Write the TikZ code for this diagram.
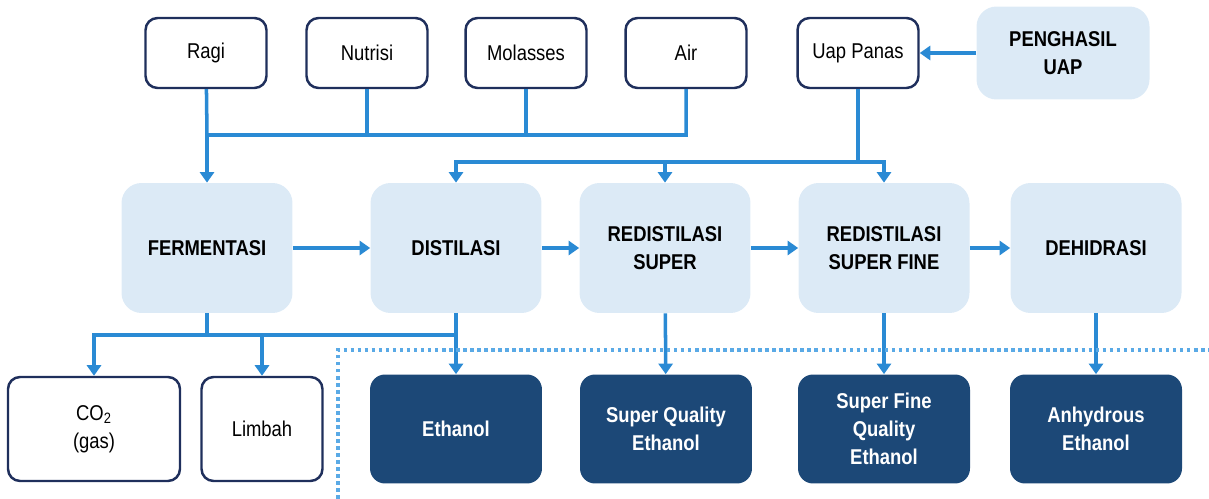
\documentclass[tikz,border=0pt]{standalone}
\usepackage{fontspec}
\setmainfont{Liberation Sans}[FakeStretch=0.86]
\usetikzlibrary{arrows.meta}
\definecolor{navy}{HTML}{1F2F5C}
\definecolor{pale}{HTML}{DCEAF6}
\definecolor{deep}{HTML}{1C4877}
\definecolor{flow}{HTML}{2A8AD4}
\definecolor{dots}{HTML}{5AAAE6}
\begin{document}
\begin{tikzpicture}[x=0.02cm,y=-0.02cm,
    every node/.style={align=center,inner sep=2pt,font=\fontsize{12.2}{15.9}\selectfont},
    feed/.style={draw=navy,line width=1.4pt,fill=white,rounded corners=0.24cm,minimum width=2.42cm,minimum height=1.4cm},
    proc/.style={fill=pale,rounded corners=0.4cm,minimum width=3.42cm,minimum height=2.6cm,font=\fontsize{12.2}{15.9}\selectfont\bfseries},
    prod/.style={fill=deep,text=white,rounded corners=0.3cm,minimum width=3.44cm,minimum height=2.18cm,font=\fontsize{12.2}{15.9}\selectfont\bfseries},
    link/.style={draw=flow,line width=2pt},
    flowto/.style={link,-{Triangle[length=6pt,width=8pt]}}]
            \useasboundingbox (0,0) rectangle (1209,499);

            \node[feed] (ragi) at (206,53) {Ragi};
            \node[feed] (nutrisi) at (367,53) {Nutrisi};
            \node[feed] (molasses) at (526,53) {Molasses};
            \node[feed] (air) at (686,53) {Air};
            \node[feed] (uap) at (858,53) {Uap Panas};
            \node[proc,minimum width=3.46cm,minimum height=1.86cm] (penghasil) at (1063,53) {PENGHASIL\\UAP};

            \node[proc] (fermentasi) at (207,248) {FERMENTASI};
            \node[proc] (distilasi) at (456,248) {DISTILASI};
            \node[proc] (super) at (665,248) {REDISTILASI\\SUPER};
            \node[proc] (superfine) at (884,248) {REDISTILASI\\SUPER FINE};
            \node[proc] (dehidrasi) at (1096,248) {DEHIDRASI};

            \node[feed,minimum width=3.44cm,minimum height=2.08cm] (co2) at (94,429) {CO\textsubscript{2}\\(gas)};
            \node[feed,minimum height=2.08cm] (limbah) at (262,429) {Limbah};
            \node[prod] (ethanol) at (456,429) {Ethanol};
            \node[prod] (sqe) at (666,429) {Super Quality\\Ethanol};
            \node[prod] (sfqe) at (884,429) {Super Fine\\Quality\\Ethanol};
            \node[prod] (anhydrous) at (1096,429) {Anhydrous\\Ethanol};

            \coordinate (bahan) at (207,135);
            \coordinate (steam) at (858,162);
            \coordinate (sisa) at (207,335);

            % bahan masuk fermentasi
            \draw[link] (ragi) -- (bahan) -| (air);
            \draw[link] (nutrisi) -- (nutrisi |- bahan);
            \draw[link] (molasses) -- (molasses |- bahan);
            \draw[flowto] (bahan) -- (fermentasi);

            % uap panas
            \draw[flowto] (penghasil) -- (uap);
            \draw[link] (uap) -- (steam);
            \draw[flowto] (steam) -| (distilasi);
            \draw[flowto] (steam) -| (superfine);
            \draw[flowto] (super |- steam) -- (super);

            \draw[flowto] (fermentasi) -- (distilasi);
            \draw[flowto] (distilasi) -- (super);
            \draw[flowto] (super) -- (superfine);
            \draw[flowto] (superfine) -- (dehidrasi);

            % hasil
            \draw[link] (fermentasi) -- (sisa);
            \draw[link] (distilasi) -- (distilasi |- sisa);
            \draw[flowto] (sisa) -| (co2);
            \draw[flowto] (sisa) -| (ethanol);
            \draw[flowto] (limbah |- sisa) -- (limbah);
            \draw[flowto] (super) -- (sqe);
            \draw[flowto] (superfine) -- (sfqe);
            \draw[flowto] (dehidrasi) -- (anhydrous);

            \draw[dots,line width=2.2pt,dash pattern=on 2pt off 2pt] (338,499) -- (338,350) -- (1209,350);
        \end{tikzpicture}
\end{document}
